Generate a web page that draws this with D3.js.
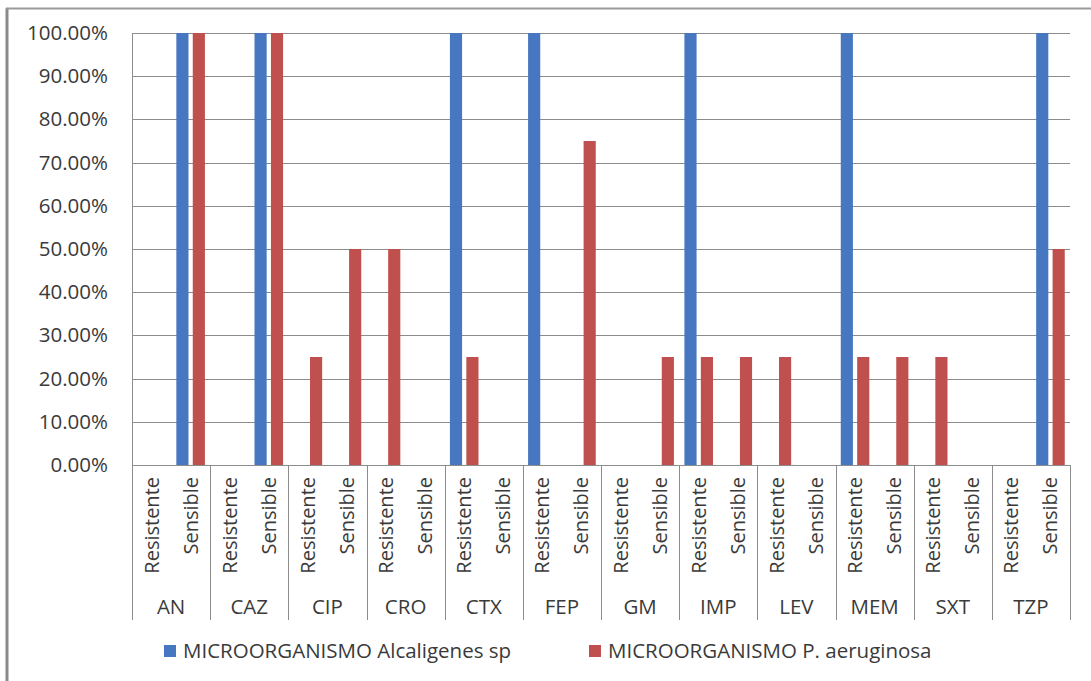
<!DOCTYPE html>
<html>
<head>
<meta charset="utf-8">
<script src="https://cdn.jsdelivr.net/npm/d3@7"></script>
<style>
  html, body { margin: 0; padding: 0; background: #fff; }
  svg { display: block; font-family: "Open Sans", Lato, sans-serif; }
</style>
</head>
<body>
<svg id="chart" width="1091" height="681"></svg>
<script>
// Antibiotics (outer category level) and result (inner category level)
const antibiotics = ["AN", "CAZ", "CIP", "CRO", "CTX", "FEP", "GM", "IMP", "LEV", "MEM", "SXT", "TZP"];
const results = ["Resistente", "Sensible"];
const seriesNames = ["MICROORGANISMO Alcaligenes sp", "MICROORGANISMO P. aeruginosa"];
const seriesColors = ["#4677c0", "#c0504d"];

// Percentages per antibiotic/result pair, in the order AN-Resistente, AN-Sensible, CAZ-Resistente, ...
const alcaligenes = [
  0, 1,    0, 1,    0, 0,    0, 0,    1, 0,    1, 0,
  0, 0,    1, 0,    0, 0,    1, 0,    0, 0,    0, 1
];
const aeruginosa = [
  0, 1,    0, 1,    0.25, 0.5,  0.5, 0,  0.25, 0,  0, 0.75,
  0, 0.25, 0.25, 0.25, 0.25, 0, 0.25, 0.25, 0.25, 0, 0, 0.5
];
const yTicks = [0, 0.1, 0.2, 0.3, 0.4, 0.5, 0.6, 0.7, 0.8, 0.9, 1];

const slots = [];
antibiotics.forEach(a => results.forEach(r => slots.push({ key: a + "|" + r, antibiotic: a, result: r })));
slots.forEach((s, i) => { s.values = [alcaligenes[i], aeruginosa[i]]; });

const svg = d3.select("#chart");
const plot = { left: 132, right: 1070, top: 33, bottom: 465, catBottom: 620 };
const textColor = "#3a3a3a";
const gridColor = "#8c8c8c";
const fontSize = 20.5;
const rotatedFontSize = 20;

// Outer frame (left and top edges visible)
svg.append("line").attr("x1", 7).attr("x2", 7).attr("y1", 8).attr("y2", 681)
  .attr("stroke", "#8a8a8a").attr("stroke-width", 3);
svg.append("line").attr("x1", 6).attr("x2", 1091).attr("y1", 8.5).attr("y2", 8.5)
  .attr("stroke", "#9a9a9a").attr("stroke-width", 2);

const x = d3.scaleBand().domain(slots.map(s => s.key)).range([plot.left, plot.right]).padding(0);
const xs = d3.scaleBand().domain([0, 1]).range([0, x.bandwidth()]).paddingInner(0.26).paddingOuter(0.32);
const y = d3.scaleLinear().domain([0, 1]).range([plot.bottom, plot.top]);

// Horizontal gridlines
svg.append("g").selectAll("line").data(yTicks.filter(t => t > 0)).join("line")
  .attr("x1", plot.left).attr("x2", plot.right)
  .attr("y1", d => Math.round(y(d)) + 0.5).attr("y2", d => Math.round(y(d)) + 0.5)
  .attr("stroke", gridColor).attr("stroke-width", 1);

// Y axis labels
const yAxis = d3.axisLeft(y).tickValues(yTicks).tickFormat(d3.format(".2%")).tickSize(0).tickPadding(24);
const yg = svg.append("g").attr("transform", `translate(${plot.left},0)`).call(yAxis);
yg.select(".domain").remove();
yg.selectAll("text").attr("font-size", fontSize).attr("fill", textColor).attr("font-family", "'Open Sans', sans-serif");

// Bars
const groups = svg.append("g").selectAll("g").data(slots).join("g")
  .attr("transform", d => `translate(${x(d.key)},0)`);
groups.selectAll("rect").data(d => d.values.map((v, i) => ({ v, i }))).join("rect")
  .attr("x", d => xs(d.i))
  .attr("width", xs.bandwidth())
  .attr("y", d => y(d.v))
  .attr("height", d => y(0) - y(d.v))
  .attr("fill", d => seriesColors[d.i]);

// Axis lines
svg.append("line").attr("x1", plot.left + 0.5).attr("x2", plot.left + 0.5)
  .attr("y1", plot.top).attr("y2", plot.catBottom).attr("stroke", gridColor);
svg.append("line").attr("x1", plot.left).attr("x2", plot.right)
  .attr("y1", plot.bottom + 0.5).attr("y2", plot.bottom + 0.5).attr("stroke", gridColor);

// Group separators in the category area
const groupEdges = antibiotics.map(a => x(a + "|" + results[0])).concat([plot.right]);
svg.append("g").selectAll("line").data(groupEdges.slice(1)).join("line")
  .attr("x1", d => Math.round(d) + 0.5).attr("x2", d => Math.round(d) + 0.5)
  .attr("y1", plot.bottom).attr("y2", plot.catBottom)
  .attr("stroke", gridColor);

// Inner category labels (rotated)
svg.append("g").selectAll("text").data(slots).join("text")
  .attr("transform", d => `translate(${x(d.key) + x.bandwidth() / 2},${plot.bottom + 12}) rotate(-90)`)
  .attr("text-anchor", "end")
  .attr("dy", "0.35em")
  .attr("font-size", rotatedFontSize)
  .attr("fill", textColor)
  .text(d => d.result);

// Outer category labels
svg.append("g").selectAll("text").data(antibiotics).join("text")
  .attr("x", a => x(a + "|" + results[0]) + x.bandwidth())
  .attr("y", 614)
  .attr("text-anchor", "middle")
  .attr("font-size", fontSize)
  .attr("fill", textColor)
  .text(a => a);

// Legend
const legendX = [164, 589];
const legend = svg.append("g").selectAll("g").data(seriesNames).join("g")
  .attr("transform", (d, i) => `translate(${legendX[i]},651)`);
legend.append("rect").attr("x", 0).attr("y", -6).attr("width", 12).attr("height", 12)
  .attr("fill", (d, i) => seriesColors[i]);
legend.append("text").attr("x", 19).attr("dy", "0.35em")
  .attr("font-size", fontSize).attr("fill", textColor).text(d => d);
</script>
</body>
</html>
